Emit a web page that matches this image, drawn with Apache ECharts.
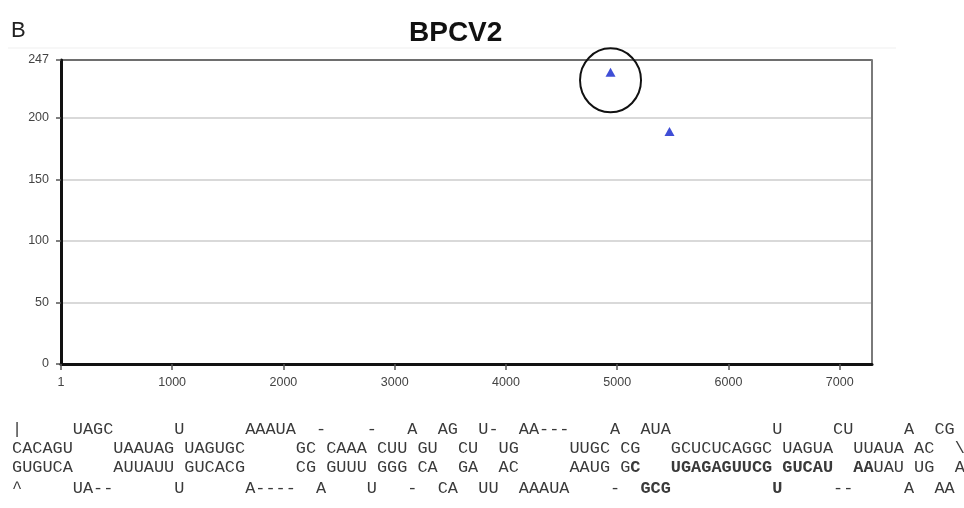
<!DOCTYPE html>
<html>
<head>
<meta charset="utf-8">
<script src="https://cdn.jsdelivr.net/npm/echarts@6/dist/echarts.min.js"></script>
<style>
  html, body { margin: 0; padding: 0; background: #fff; }
  #chart { width: 964px; height: 508px; }
</style>
</head>
<body>
<div id="chart"></div>
<script>
// hits along the genome
const genomePos = [4940, 5470];
const hitScore = [237, 189];
const xTicks = [1, 1000, 2000, 3000, 4000, 5000, 6000, 7000];
const yTicks = [0, 50, 100, 150, 200, 247];

// hairpin structure, [column, text, bold]
const struct1 = [[0,'|'],[6,'UAGC'],[16,'U'],[23,'AAAUA'],[30,'-'],[35,'-'],[39,'A'],[42,'AG'],[46,'U-'],[50,'AA---'],[59,'A'],[62,'AUA'],[75,'U'],[81,'CU'],[88,'A'],[91,'CG']];
const struct2 = [[0,'CACAGU'],[10,'UAAUAG'],[17,'UAGUGC'],[28,'GC'],[31,'CAAA'],[36,'CUU'],[40,'GU'],[44,'CU'],[48,'UG'],[55,'UUGC'],[60,'CG'],[65,'GCUCUCAGGC'],[76,'UAGUA'],[83,'UUAUA'],[89,'AC'],[93,'\\']];
const struct3 = [[0,'GUGUCA'],[10,'AUUAUU'],[17,'GUCACG'],[28,'CG'],[31,'GUUU'],[36,'GGG'],[40,'CA'],[44,'GA'],[48,'AC'],[55,'AAUG'],[60,'G'],[61,'C',1],[65,'UGAGAGUUCG',1],[76,'GUCAU',1],[83,'AA',1],[85,'UAU'],[89,'UG'],[93,'A']];
const struct4 = [[0,'^'],[6,'UA--'],[16,'U'],[23,'A----'],[30,'A'],[35,'U'],[39,'-'],[42,'CA'],[46,'UU'],[50,'AAAUA'],[59,'-'],[62,'GCG',1],[75,'U',1],[81,'--'],[88,'A'],[91,'AA']];
const structLines = [struct1, struct2, struct3, struct4];
const structY = [430, 449, 468, 489];

function richLine(tokens) {
  let out = '';
  let col = 0;
  tokens.forEach(t => {
    if (t[0] > col) { out += ' '.repeat(t[0] - col); col = t[0]; }
    out += t[2] ? '{b|' + t[1] + '}' : t[1];
    col += t[1].length;
  });
  return out;
}

const monoFont = {fontFamily: 'Liberation Mono', fontSize: 16.9};
const structGraphics = structLines.map((tokens, i) => ({
  type: 'text',
  x: 12,
  y: structY[i],
  style: {
    text: richLine(tokens),
    fontFamily: monoFont.fontFamily,
    fontSize: monoFont.fontSize,
    fill: '#3a3a3a',
    verticalAlign: 'middle',
    rich: {
      b: {fontFamily: monoFont.fontFamily, fontSize: monoFont.fontSize, fontWeight: 'bold', color: '#111'}
    }
  }
}));

const chart = echarts.init(document.getElementById('chart'));

const labelStyle = {color: '#444', fontSize: 12.5, fontFamily: 'Liberation Sans', formatter: v => String(v)};
// last split line (at 247) doubles as the top frame
const splitColors = yTicks.map((v, i) => i === yTicks.length - 1 ? '#6e6e6e' : '#d9d9d9');

chart.setOption({
  animation: false,
  backgroundColor: '#fff',
  title: {
    text: 'BPCV2',
    left: 404,
    top: 14,
    textStyle: {fontSize: 28, fontWeight: 'bold', color: '#111', fontFamily: 'Liberation Sans'}
  },
  grid: {left: 61, top: 60, right: 92, bottom: 144, show: false},
  xAxis: {
    type: 'value', position: 'bottom', min: 1, max: 7290, z: 3,
    axisLine: {lineStyle: {color: '#111', width: 3}},
    axisTick: {customValues: xTicks, length: 6, lineStyle: {color: '#555', width: 1.5}},
    axisLabel: Object.assign({customValues: xTicks, margin: 12}, labelStyle),
    splitLine: {show: false}
  },
  yAxis: [{
    type: 'value', position: 'left', min: 0, max: 247, z: 0,
    axisLine: {show: true, lineStyle: {color: '#111', width: 3}},
    axisTick: {show: true, customValues: yTicks, length: 5, lineStyle: {color: '#555', width: 1.5}},
    axisLabel: Object.assign({customValues: yTicks, margin: 12}, labelStyle),
    splitLine: {show: true, lineStyle: {color: splitColors, width: 2}}
  }, {
    type: 'value', position: 'right', min: 0, max: 247, z: 2,
    axisLine: {show: true, lineStyle: {color: '#7a7a7a', width: 2}},
    axisTick: {show: false}, axisLabel: {show: false}, splitLine: {show: false}
  }],
  series: [{
    type: 'scatter',
    xAxisIndex: 0,
    yAxisIndex: 0,
    symbol: 'triangle',
    symbolSize: [10, 9],
    itemStyle: {color: '#0f22cc'},
    data: genomePos.map((p, i) => [p, hitScore[i]]),
    markPoint: {
      symbol: 'circle',
      symbolSize: [61, 64],
      symbolOffset: [0, 8],
      itemStyle: {color: 'rgba(0,0,0,0)', borderColor: '#111', borderWidth: 2},
      label: {show: false},
      data: [{coord: [genomePos[0], hitScore[0]]}]
    }
  }],
  graphic: [
    {type: 'text', x: 11, y: 31, style: {text: 'B', fontSize: 22, fontFamily: 'Liberation Sans', fill: '#222', verticalAlign: 'middle'}},
    {type: 'line', shape: {x1: 8, y1: 48, x2: 896, y2: 48}, style: {stroke: '#efefef', lineWidth: 1}}
  ].concat(structGraphics)
});
</script>
</body>
</html>
